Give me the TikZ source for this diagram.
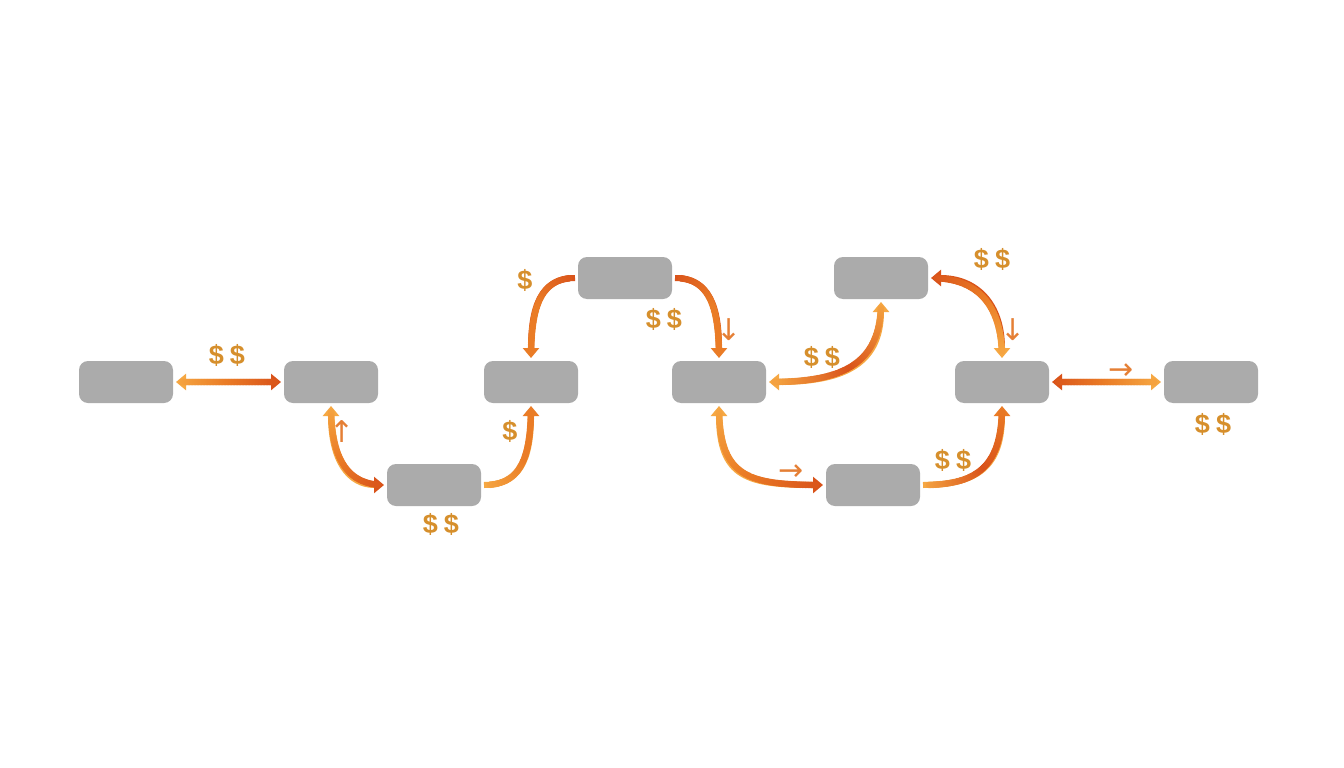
\documentclass[tikz,border=0pt]{standalone}
\usepackage{fontspec}
\newfontfamily\dejavu{DejaVu Sans}
\newfontfamily\libsans{Liberation Sans}
\usetikzlibrary{arrows.meta,decorations.markings}
\definecolor{lt}{HTML}{F6A843}
\definecolor{md}{HTML}{EA7C26}
\definecolor{dk}{HTML}{D9531A}
\definecolor{boxc}{HTML}{ABABAB}
\definecolor{dollar}{HTML}{D68F2C}
\definecolor{sarrow}{HTML}{E57F35}
\newcommand\gradmark[3]{%
  \pgfmathsetmacro\gf{(\pgfkeysvalueof{/pgf/decoration/mark info/distance from start})/(\pgfdecoratedpathlength)}%
  \ifdim\gf pt<0.5pt
    \pgfmathsetmacro\gp{200*\gf}\colorlet{gcol}{#2!\gp!#1}%
  \else
    \pgfmathsetmacro\gp{200*\gf-100}\colorlet{gcol}{#3!\gp!#2}%
  \fi
  \fill[gcol] (0,0) circle (3.35pt);}
\tikzset{
  box/.style={rounded corners=9pt, fill=boxc, minimum width=94pt, minimum height=42pt, inner sep=0pt, outer sep=3pt},
  conn/.style n args={3}{line width=6pt, draw=#1, postaction={decorate, decoration={markings, mark=between positions 6pt and -6pt step 1.5pt with {\gradmark{#1}{#2}{#3}}}}},
  dol/.style={text=dollar, font=\libsans\bfseries\fontsize{27}{27}\selectfont, inner sep=0pt},
  sm/.style={text=sarrow, font=\dejavu\fontsize{30}{30}\selectfont, inner sep=0pt},
  TL/.tip={Triangle[length=10pt,width=16pt,color=lt]},
  TM/.tip={Triangle[length=10pt,width=16pt,color=md]},
  TD/.tip={Triangle[length=10pt,width=16pt,color=dk]},
}
\newcommand\twodol{\$\hspace{6pt}\$}
\begin{document}
\begin{tikzpicture}[x=1pt,y=-1pt]
\useasboundingbox (0,0) rectangle (1344,768);
\fill[white] (0,0) rectangle (1344,768);
% boxes
\node[box] (A) at (126,382) {};
\node[box] (B) at (331,382) {};
\node[box] (C) at (434,485) {};
\node[box] (D) at (531,382) {};
\node[box] (E) at (625,278) {};
\node[box] (F) at (719,382) {};
\node[box] (G) at (881,278) {};
\node[box] (H) at (873,485) {};
\node[box] (I) at (1002,382) {};
\node[box] (J) at (1211,382) {};
% connectors
\draw[conn={lt}{md}{dk}, TL-TD] (A) -- (B);
\draw[conn={lt}{md}{dk}, TL-TD] (B.south) .. controls +(0,55) and +(-35,0) .. (C.west);
\draw[conn={lt}{md}{md}, -TM] (C.east) .. controls +(35,0) and +(0,55) .. (D.south);
\draw[conn={dk}{md}{md}, -TM] (E.west) .. controls +(-35,0) and +(0,-50) .. (D.north);
\draw[conn={dk}{md}{md}, -TM] (E.east) .. controls +(35,0) and +(0,-50) .. (F.north);
\draw[conn={lt}{dk}{lt}, TL-TL] (G.south) .. controls +(0,65) and +(70,0) .. (F.east);
\draw[conn={dk}{md}{lt}, TD-TL] (G.east) .. controls +(45,0) and +(0,-55) .. (I.north);
\draw[conn={lt}{md}{dk}, TL-TD] (F.south) .. controls +(0,72) and +(-75,0) .. (H.west);
\draw[conn={lt}{dk}{md}, -TM] (H.east) .. controls +(55,0) and +(0,60) .. (I.south);
\draw[conn={dk}{md}{lt}, TD-TL] (I) -- (J);
% dollar labels
\node[dol] (d1) at (227,355) {\twodol};
\node[dol] (d2) at (510,431) {\$};
\node[dol] (d3) at (441,524) {\twodol};
\node[dol] (d4) at (525,280) {\$};
\node[dol] (d5) at (664,319) {\twodol};
\node[dol] (d6) at (822,357) {\twodol};
\node[dol] (d7) at (953,460) {\twodol};
\node[dol] (d8) at (992,259) {\twodol};
\node[dol] (d9) at (1213,424) {\twodol};
% small arrows
\node[sm] (s1) at (342,432) {↑};
\node[sm] (s2) at (729,330) {↓};
\node[sm] (s3) at (791,473) {→};
\node[sm] (s4) at (1013,330) {↓};
\node[sm] (s5) at (1121,372) {→};
\end{tikzpicture}
\end{document}
